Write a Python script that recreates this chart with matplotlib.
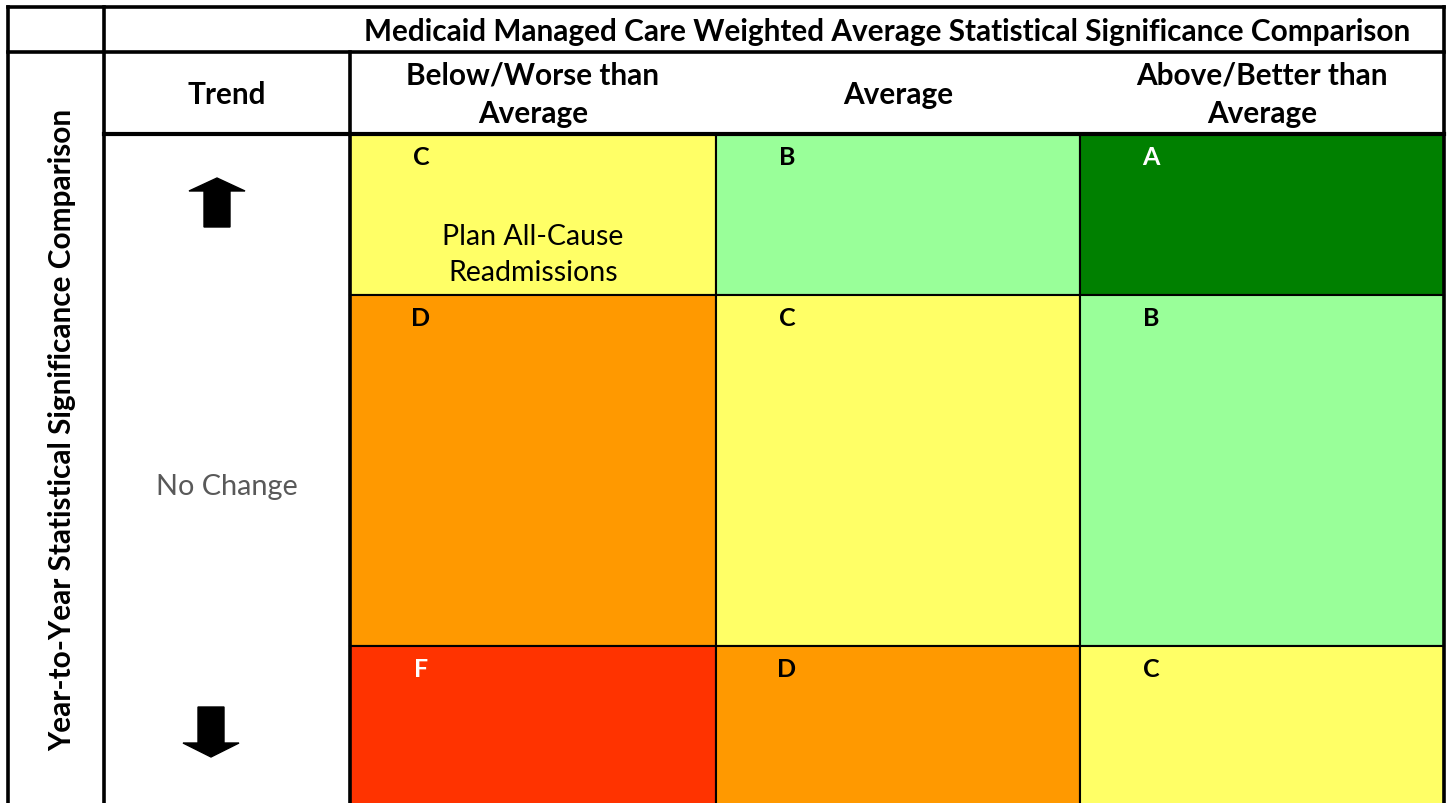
import matplotlib
matplotlib.use('Agg')
import matplotlib.pyplot as plt
from matplotlib.patches import Rectangle, FancyArrow

plt.rcParams['font.family'] = ['Lato', 'DejaVu Sans']

# Данные таблицы
title = 'Medicaid Managed Care Weighted Average Statistical Significance Comparison'
side_label = 'Year-to-Year Statistical Significance Comparison'
col_labels = ['Below/Worse than\nAverage', 'Average', 'Above/Better than\nAverage']
trend_labels = ['up', 'No Change', 'down']
grades = [['C', 'B', 'A'],
          ['D', 'C', 'B'],
          ['F', 'D', 'C']]
grade_colors = {'A': '#008000', 'B': '#99FF99', 'C': '#FFFF66',
                'D': '#FF9900', 'F': '#FF3300'}
letter_colors = {'A': 'white', 'B': 'black', 'C': 'black',
                 'D': 'black', 'F': 'white'}
measures = {(0, 0): 'Plan All-Cause\nReadmissions'}

# Разметка в пикселях
W, H = 1447, 804
x_left, x_side, x_trend = 8, 104, 350
col_edges = [350, 716, 1080, 1444]
y_top, y_title, y_head = 8, 53, 135
row_edges = [135, 296, 647, 830]
fs = 21.4

fig = plt.figure(figsize=(W / 100, H / 100), dpi=100)
ax = fig.add_axes([0, 0, 1, 1])
ax.set_xlim(0, W)
ax.set_ylim(H, 0)
ax.axis('off')

# Цветные ячейки
for i, row in enumerate(grades):
    for j, g in enumerate(row):
        x0, x1 = col_edges[j], col_edges[j + 1]
        y0, y1 = row_edges[i], row_edges[i + 1]
        ax.add_patch(Rectangle((x0, y0), x1 - x0, y1 - y0,
                               facecolor=grade_colors[g], edgecolor='black', lw=1.5))
        ax.text(x0 + 71, y0 + 11, g, ha='center', va='top', fontsize=18,
                fontweight='bold', color=letter_colors[g])
        if (i, j) in measures:
            ax.text((x0 + x1) / 2, y0 + 120, measures[(i, j)], ha='center',
                    va='center', fontsize=20.5, linespacing=1.45)

# Линии рамки
thick = 2.6
ax.plot([x_left, W - 3], [y_top, y_top], color='black', lw=thick)
ax.plot([x_left, x_left], [y_top, H + 5], color='black', lw=thick)
ax.plot([x_side, x_side], [y_top, H + 5], color='black', lw=thick)
ax.plot([W - 3, W - 3], [y_top, H + 5], color='black', lw=thick)
ax.plot([x_left, W - 3], [y_title, y_title], color='black', lw=thick)
ax.plot([x_side, W - 3], [y_head, y_head], color='black', lw=3)
ax.plot([x_trend, x_trend], [y_title, H + 5], color='black', lw=thick)

# Заголовки
ax.text(887, (y_top + y_title) / 2 + 1, title,
        ha='center', va='center', fontsize=fs, fontweight='bold')
ax.text((x_side + x_trend) / 2, (y_title + y_head) / 2 + 1, 'Trend',
        ha='center', va='center', fontsize=fs, fontweight='bold')
for j, lab in enumerate(col_labels):
    ax.text((col_edges[j] + col_edges[j + 1]) / 2, (y_title + y_head) / 2 + 1, lab,
            ha='center', va='center', fontsize=fs, fontweight='bold', linespacing=1.45)
ax.text(62, 430, side_label, rotation=90, ha='center', va='center',
        fontsize=fs, fontweight='bold')

# Тренды
xc = (x_side + x_trend) / 2
ax.text(xc, 487, trend_labels[1], ha='center', va='center', fontsize=20.8,
        color='#595959')
ax.add_patch(FancyArrow(217, 228, 0, -49, width=26, head_width=56, head_length=13,
                        length_includes_head=True, color='black'))
ax.add_patch(FancyArrow(211, 708, 0, 50, width=26, head_width=56, head_length=14,
                        length_includes_head=True, color='black'))

fig.savefig('out.png', dpi=100)
